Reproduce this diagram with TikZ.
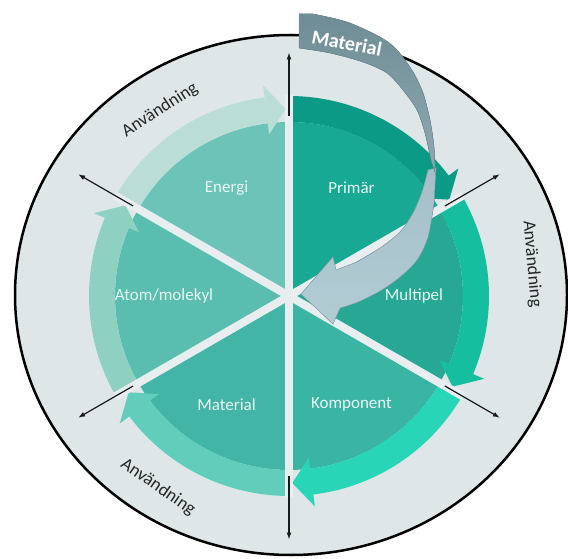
\documentclass[tikz,border=0pt]{standalone}
\usepackage{fontspec}
\setmainfont{Carlito}
\usepackage{tikz}

\definecolor{bgcol}{HTML}{DFE6E8}
\definecolor{spokecol}{HTML}{E8EEEF}
\definecolor{labcol}{HTML}{E8F7F3}
\definecolor{wPrim}{HTML}{17A994}
\definecolor{rPrim}{HTML}{0A9A85}
\definecolor{wMult}{HTML}{27A895}
\definecolor{rMult}{HTML}{14BE9F}
\definecolor{wKomp}{HTML}{3AB4A3}
\definecolor{rKomp}{HTML}{28D5B6}
\definecolor{wMat}{HTML}{43B5A6}
\definecolor{rMat}{HTML}{60CEBA}
\definecolor{wAtom}{HTML}{59BEAF}
\definecolor{rAtom}{HTML}{8ED0C1}
\definecolor{wEner}{HTML}{6BC4B7}
\definecolor{rEner}{HTML}{BADED5}
\definecolor{arrdark}{HTML}{6F8D96}
\definecolor{arrmid}{HTML}{8EA9B1}
\definecolor{arrlight}{HTML}{A4BFC8}
\definecolor{arrpale}{HTML}{B2CCD4}

\tikzset{
  sectorlabel/.style={text=labcol, font=\fontsize{17}{20}\selectfont},
  uselabel/.style={text=black!85, font=\fontsize{18}{21}\selectfont},
  outarrow/.style={line width=1.2pt, -latex, black!90},
}

\begin{document}
\begin{tikzpicture}[x=1pt,y=1pt]
    \useasboundingbox (0,0) rectangle (568,558);

    % Outer disc
    \filldraw[fill=bgcol, draw=black, line width=2.5pt] (291,263) ellipse [x radius=276, y radius=260];

    \coordinate (c) at (289,262);
    \begin{scope}[shift={(c)}]
      % Sectors with their ring arrows
      \foreach \a/\wc/\rc/\nm/\txt in {150/wEner/rEner/ener/Energi, 90/wPrim/rPrim/prim/Primär, 30/wMult/rMult/mult/Multipel, -30/wKomp/rKomp/komp/Komponent, -90/wMat/rMat/mat/Material, 210/wAtom/rAtom/atom/{Atom/molekyl}} {
        \fill[\wc] (0,0) -- (\a:174) arc[start angle=\a, delta angle=-60, radius=174] -- cycle;
        \fill[\rc] (\a:174) arc[start angle=\a, delta angle=-53, radius=174]
          -- (\a-53:163) -- (\a-59:187) -- (\a-53:212) -- (\a-53:200)
          arc[start angle=\a-53, delta angle=53, radius=200] -- cycle;
        \node[sectorlabel] (\nm) at (\a-30:125) {\txt};
      }

      % Spokes and outgoing arrows
      \foreach \a [count=\i] in {90,30,-30,-90,-150,150} {
        \coordinate (rim\i) at (\a:201);
        \coordinate (in\i) at (\a:180);
        \coordinate (out\i) at (\a:243);
        \draw[spokecol, line width=8pt] (0,0) -- (rim\i);
        \draw[outarrow] (in\i) -- (out\i);
      }
    \end{scope}

    % Usage labels
    \node[uselabel, rotate=33] (use1) at (160,448) {Användning};
    \node[uselabel, rotate=-85] (use2) at (532,294) {Användning};
    \node[uselabel, rotate=-35] (use3) at (158,71) {Användning};

    % Incoming material arrow
    \fill[top color=arrlight, bottom color=arrpale, draw=arrmid, line width=0.5pt]
      (436,390) -- plot[smooth] coordinates {(434,355) (428,321) (417,298) (400,281) (380,267) (358,256) (340,250)}
      -- (333,234) -- (301,264) -- (333,301) -- (336,288)
      -- plot[smooth] coordinates {(357,296) (380,310) (400,326) (413,345) (422,366) (428,388)} -- cycle;
    \fill[top color=arrdark, bottom color=arrmid, draw=arrdark, line width=0.5pt]
      (299,544) -- plot[smooth] coordinates {(313,544) (347,536) (380,521) (397,508) (413,486) (423,465) (430,438) (434,411) (435,386)}
      -- plot[smooth] coordinates {(431,398) (425,425) (417,448) (403,468) (387,485) (363,496) (330,505) (299,510)} -- cycle;
    \node[text=white, font=\bfseries\fontsize{20}{24}\selectfont, rotate=-11] (matin) at (347,515) {Material};
\end{tikzpicture}
\end{document}
